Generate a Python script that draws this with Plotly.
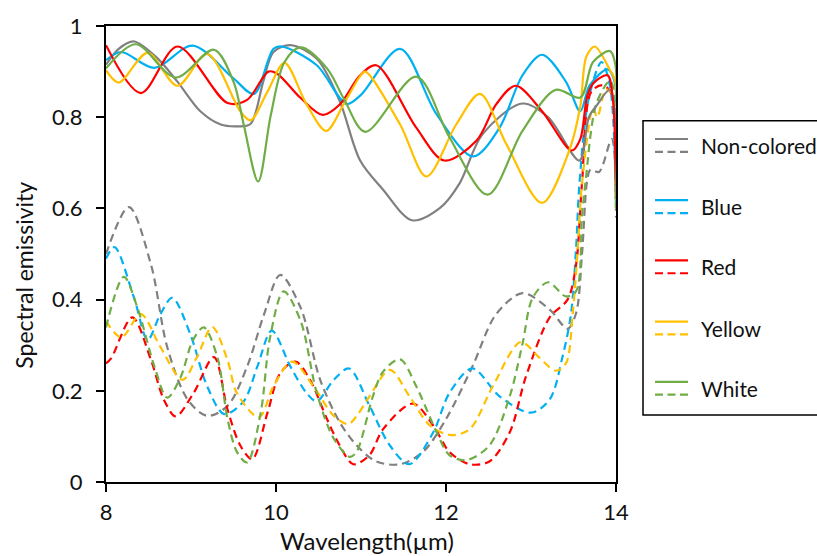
import plotly.graph_objects as go

# Spectral emissivity (8-14 um) of coated samples: solid = one state, dashed = other state
series_names = ["Non-colored", "Blue", "Red", "Yellow", "White"]
series_colors = ["#808080", "#00B0F0", "#FF0000", "#FFC000", "#70AD47"]

# ---- solid curves ----
gray_solid_x = [8.0, 8.15, 8.33, 8.6, 8.84, 9.11, 9.35, 9.55, 9.7, 9.85, 9.97, 10.17, 10.48, 10.75,
                10.99, 11.26, 11.6, 11.93, 12.16, 12.43, 12.9, 13.2, 13.57, 13.68, 13.77, 13.93, 14.0]
gray_solid_y = [0.915, 0.95, 0.966, 0.93, 0.878, 0.813, 0.784, 0.78, 0.785, 0.878, 0.943, 0.958, 0.928, 0.835,
                0.705, 0.641, 0.574, 0.601, 0.655, 0.763, 0.83, 0.80, 0.705, 0.80, 0.825, 0.86, 0.62]

blue_solid_x = [8.0, 8.18, 8.57, 9.02, 9.5, 9.74, 9.97, 10.07, 10.48, 10.83, 11.0, 11.46, 11.89,
                12.32, 12.63, 12.9, 13.13, 13.41, 13.58, 13.69, 13.9, 13.98, 14.0]
blue_solid_y = [0.925, 0.943, 0.908, 0.957, 0.885, 0.851, 0.95, 0.955, 0.914, 0.829, 0.849, 0.95, 0.806,
                0.714, 0.777, 0.892, 0.937, 0.878, 0.813, 0.87, 0.905, 0.88, 0.62]

red_solid_x = [8.0, 8.41, 8.84, 9.43, 9.66, 9.91, 10.01, 10.29, 10.55, 10.75, 10.99, 11.18, 11.65,
               11.98, 12.36, 12.59, 12.82, 13.13, 13.48, 13.58, 13.66, 13.73, 13.9, 13.96, 14.0]
red_solid_y = [0.958, 0.853, 0.955, 0.831, 0.838, 0.9, 0.896, 0.842, 0.805, 0.828, 0.892, 0.914, 0.777,
               0.705, 0.749, 0.828, 0.869, 0.813, 0.727, 0.752, 0.845, 0.874, 0.892, 0.845, 0.62]

yellow_solid_x = [8.0, 8.15, 8.49, 8.84, 9.19, 9.58, 9.70, 9.9, 10.1, 10.36, 10.59, 10.8, 10.99, 11.05,
                  11.46, 11.77, 12.12, 12.4, 12.71, 13.13, 13.45, 13.58, 13.65, 13.75, 13.93, 13.99, 14.0]
yellow_solid_y = [0.903, 0.876, 0.941, 0.869, 0.939, 0.813, 0.793, 0.856, 0.919, 0.828, 0.77, 0.83, 0.89, 0.90,
                  0.784, 0.67, 0.784, 0.851, 0.741, 0.612, 0.727, 0.824, 0.932, 0.955, 0.903, 0.88, 0.60]

white_solid_x = [8.0, 8.35, 8.82, 9.27, 9.5, 9.62, 9.79, 9.94, 10.1, 10.29, 10.6, 10.8, 11.05,
                 11.65, 12.04, 12.49, 12.9, 13.29, 13.58, 13.73, 13.93, 13.99, 14.0]
white_solid_y = [0.907, 0.96, 0.887, 0.948, 0.878, 0.784, 0.659, 0.806, 0.921, 0.953, 0.907, 0.84, 0.768,
                 0.889, 0.756, 0.63, 0.77, 0.86, 0.843, 0.921, 0.945, 0.918, 0.60]

# ---- dashed curves ----
gray_dash_x = [8.0, 8.27, 8.53, 8.72, 8.96, 9.19, 9.43, 9.66, 9.86, 10.05, 10.29, 10.52, 10.75, 10.95,
               11.18, 11.46, 11.73, 12.0, 12.31, 12.59, 12.9, 13.22, 13.43, 13.53, 13.6, 13.66, 13.7,
               13.8, 13.95, 14.0]
gray_dash_y = [0.50, 0.603, 0.476, 0.296, 0.181, 0.145, 0.167, 0.253, 0.368, 0.454, 0.382, 0.224, 0.131, 0.08,
               0.045, 0.039, 0.066, 0.138, 0.253, 0.368, 0.414, 0.378, 0.336, 0.37, 0.50, 0.66, 0.685,
               0.68, 0.752, 0.58]

blue_dash_x = [8.0, 8.1, 8.33, 8.49, 8.64, 8.78, 8.99, 9.19, 9.39, 9.62, 9.78, 9.95, 10.17, 10.36, 10.48,
               10.68, 10.86, 11.1, 11.34, 11.57, 11.85, 12.04, 12.31, 12.63, 13.0, 13.22, 13.37, 13.47,
               13.53, 13.57, 13.68, 13.83, 13.93, 14.0]
blue_dash_y = [0.49, 0.515, 0.404, 0.312, 0.368, 0.404, 0.325, 0.21, 0.149, 0.177, 0.253, 0.332, 0.253, 0.195,
               0.177, 0.224, 0.249, 0.167, 0.08, 0.039, 0.109, 0.195, 0.249, 0.188, 0.152, 0.181, 0.274, 0.368,
               0.511, 0.655, 0.842, 0.921, 0.867, 0.6]

red_dash_x = [8.0, 8.06, 8.31, 8.53, 8.68, 8.82, 9.03, 9.27, 9.43, 9.58, 9.72, 9.9, 10.05, 10.23, 10.4,
              10.6, 10.75, 10.91, 11.1, 11.26, 11.61, 11.85, 12.04, 12.28, 12.51, 12.75, 12.94, 13.22,
              13.43, 13.53, 13.6, 13.71, 13.85, 13.95, 14.0]
red_dash_y = [0.26, 0.271, 0.361, 0.267, 0.181, 0.144, 0.195, 0.274, 0.159, 0.08, 0.05, 0.152, 0.239, 0.264,
              0.224, 0.138, 0.08, 0.039, 0.059, 0.116, 0.172, 0.124, 0.066, 0.039, 0.045, 0.109, 0.231,
              0.361, 0.40, 0.476, 0.655, 0.856, 0.87, 0.85, 0.62]

yellow_dash_x = [8.0, 8.18, 8.41, 8.64, 8.9, 9.07, 9.25, 9.43, 9.54, 9.8, 9.97, 10.19, 10.44, 10.68, 10.85,
                 10.95, 11.1, 11.34, 11.57, 11.81, 12.06, 12.28, 12.55, 12.88, 13.09, 13.29, 13.41, 13.49,
                 13.55, 13.6, 13.73, 13.78, 13.88, 13.96, 14.0]
yellow_dash_y = [0.353, 0.317, 0.368, 0.296, 0.224, 0.274, 0.34, 0.267, 0.195, 0.142, 0.21, 0.264, 0.21, 0.145,
                 0.127, 0.145, 0.188, 0.246, 0.188, 0.124, 0.103, 0.116, 0.21, 0.307, 0.274, 0.244, 0.26, 0.368,
                 0.511, 0.655, 0.82, 0.80, 0.86, 0.85, 0.6]

white_dash_x = [8.0, 8.21, 8.37, 8.57, 8.72, 8.88, 9.02, 9.15, 9.31, 9.43, 9.54, 9.66, 9.82, 9.93, 10.09,
                10.29, 10.48, 10.68, 10.87, 10.95, 11.14, 11.26, 11.46, 11.65, 11.89, 12.04, 12.24, 12.51,
                12.75, 12.9, 13.02, 13.2, 13.41, 13.53, 13.6, 13.64, 13.77, 13.93, 13.98, 14.0]
white_dash_y = [0.339, 0.45, 0.382, 0.253, 0.185, 0.231, 0.31, 0.339, 0.274, 0.138, 0.066, 0.043, 0.152, 0.317,
                0.418, 0.353, 0.195, 0.095, 0.055, 0.067, 0.188, 0.242, 0.269, 0.21, 0.109, 0.059, 0.048,
                0.08, 0.188, 0.303, 0.404, 0.438, 0.407, 0.418, 0.584, 0.655, 0.83, 0.88, 0.85, 0.6]

solid_series = [(gray_solid_x, gray_solid_y), (blue_solid_x, blue_solid_y), (red_solid_x, red_solid_y),
                (yellow_solid_x, yellow_solid_y), (white_solid_x, white_solid_y)]
dashed_series = [(gray_dash_x, gray_dash_y), (blue_dash_x, blue_dash_y), (red_dash_x, red_dash_y),
                 (yellow_dash_x, yellow_dash_y), (white_dash_x, white_dash_y)]

x_ticks = [8, 10, 12, 14]
y_ticks = [0, 0.2, 0.4, 0.6, 0.8, 1]

FONT = "Lato, 'Noto Sans', sans-serif"
TEXT_COLOR = "#111111"
DASH = "8px,5px"
LW = 2.2

fig = go.Figure()
for name, color, (xs, ys) in zip(series_names, series_colors, dashed_series):
    fig.add_trace(go.Scatter(x=xs, y=ys, mode="lines", name=name + " (dashed)",
                             line=dict(color=color, width=LW, dash=DASH, shape="spline", smoothing=0.9),
                             showlegend=False))
for name, color, (xs, ys) in zip(series_names, series_colors, solid_series):
    fig.add_trace(go.Scatter(x=xs, y=ys, mode="lines", name=name,
                             line=dict(color=color, width=LW, shape="spline", smoothing=0.9),
                             showlegend=False))

# Plot area in pixels: x 106..616, y 20..482
L, R, T, B = 106, 616, 20, 482
W, H = 817, 556
pw, ph = R - L, B - T


def px_x(px):
    return (px - L) / pw


def px_y(py):
    return (B - py) / ph


# Hand-built legend box: each entry shows a solid and a dashed sample
shapes = [dict(type="rect", xref="paper", yref="paper",
               x0=px_x(643), x1=px_x(840), y0=px_y(414), y1=px_y(116),
               line=dict(color="black", width=1.5), fillcolor="white", layer="above")]
annotations = []
entry_y = [141, 203, 264, 326, 387]
for name, color, ey in zip(series_names, series_colors, entry_y):
    shapes.append(dict(type="line", xref="paper", yref="paper",
                       x0=px_x(655), x1=px_x(688), y0=px_y(ey - 6.5), y1=px_y(ey - 6.5),
                       line=dict(color=color, width=LW)))
    shapes.append(dict(type="line", xref="paper", yref="paper",
                       x0=px_x(655), x1=px_x(688), y0=px_y(ey + 6.5), y1=px_y(ey + 6.5),
                       line=dict(color=color, width=LW, dash="8px,4.5px")))
    annotations.append(dict(text=name, xref="paper", yref="paper", x=px_x(699), y=px_y(ey),
                            xanchor="left", yanchor="middle", showarrow=False,
                            font=dict(family=FONT, size=21, color=TEXT_COLOR)))

# Axis titles placed as annotations so their positions can be set exactly
annotations.append(dict(text="Wavelength(µm)", xref="paper", yref="paper", x=px_x(367), y=px_y(541),
                        xanchor="center", yanchor="middle", showarrow=False,
                        font=dict(family=FONT, size=24, color=TEXT_COLOR)))
annotations.append(dict(text="Spectral emissivity", xref="paper", yref="paper", x=px_x(24), y=px_y(273),
                        xanchor="center", yanchor="middle", showarrow=False, textangle=-90,
                        font=dict(family=FONT, size=23, color=TEXT_COLOR)))

axis_common = dict(showline=True, linecolor="black", linewidth=2, mirror=True,
                   ticks="outside", ticklen=8, tickwidth=2, tickcolor="black",
                   showgrid=False, zeroline=False,
                   tickfont=dict(family=FONT, size=22, color=TEXT_COLOR))

fig.update_layout(
    width=W, height=H,
    margin=dict(l=L, r=W - R, t=T, b=H - B),
    paper_bgcolor="white", plot_bgcolor="white",
    shapes=shapes, annotations=annotations,
    xaxis=dict(range=[8, 14], tickvals=x_ticks, ticktext=[str(v) for v in x_ticks],
               ticklabelstandoff=2, **axis_common),
    yaxis=dict(range=[0, 1], tickvals=y_ticks, ticktext=["0", "0.2", "0.4", "0.6", "0.8", "1"],
               ticklabelstandoff=9, **axis_common),
)

fig.write_html("out.html")
